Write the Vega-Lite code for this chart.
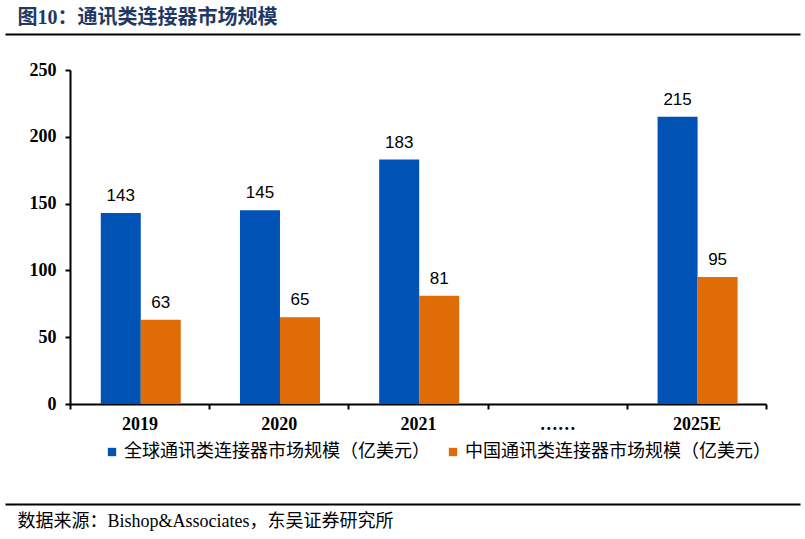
{
  "$schema": "https://vega.github.io/schema/vega-lite/v6.json",
  "background": "white",
  "padding": {"left": 5, "right": 5, "top": 7, "bottom": 5},
  "spacing": 10,
  "align": "none",
  "resolve": {"scale": {"color": "independent"}, "legend": {"color": "independent"}},
  "config": {"view": {"stroke": null}, "axis": {"grid": false}},
  "vconcat": [
    {
      "width": 795,
      "height": 17,
      "data": {"values": []},
      "mark": "point",
      "encoding": {
        "x": {
          "field": "v",
          "type": "quantitative",
          "scale": {"domain": [0, 1]},
          "axis": {
            "orient": "top",
            "position": -65,
            "title": "图10：通讯类连接器市场规模",
            "labels": false,
            "ticks": false,
            "domain": true,
            "domainColor": "#000000",
            "domainWidth": 2,
            "titleX": 12,
            "titleAlign": "left",
            "titleAnchor": "start",
            "titleBaseline": "middle",
            "titlePadding": 17,
            "titleFont": "Liberation Serif, Noto Sans CJK SC",
            "titleFontSize": 20,
            "titleFontWeight": "bold",
            "titleColor": "#1F3864",
            "minExtent": 0
          }
        }
      }
    },
    {
      "width": 696,
      "height": 334,
      "data": {
        "values": [
          {"year": "2019", "series": "全球通讯类连接器市场规模（亿美元）", "value": 143},
          {"year": "2019", "series": "中国通讯类连接器市场规模（亿美元）", "value": 63},
          {"year": "2020", "series": "全球通讯类连接器市场规模（亿美元）", "value": 145},
          {"year": "2020", "series": "中国通讯类连接器市场规模（亿美元）", "value": 65},
          {"year": "2021", "series": "全球通讯类连接器市场规模（亿美元）", "value": 183},
          {"year": "2021", "series": "中国通讯类连接器市场规模（亿美元）", "value": 81},
          {"year": "2025E", "series": "全球通讯类连接器市场规模（亿美元）", "value": 215},
          {"year": "2025E", "series": "中国通讯类连接器市场规模（亿美元）", "value": 95}
        ]
      },
      "encoding": {
        "x": {
          "field": "year",
          "type": "nominal",
          "scale": {"domain": ["2019", "2020", "2021", "……", "2025E"], "paddingInner": 0, "paddingOuter": 0},
          "axis": {
            "title": null,
            "labelAngle": 0,
            "tickBand": "extent",
            "domainColor": "#000000",
            "domainWidth": 2,
            "tickColor": "#000000",
            "tickWidth": 2,
            "tickSize": 5,
            "labelFont": "Liberation Serif",
            "labelFontWeight": "bold",
            "labelFontSize": 18,
            "labelColor": "#000000",
            "labelPadding": 6
          }
        },
        "xOffset": {
          "field": "series",
          "type": "nominal",
          "scale": {"domain": ["全球通讯类连接器市场规模（亿美元）", "中国通讯类连接器市场规模（亿美元）"], "paddingInner": 0, "paddingOuter": 0.74, "align": 0.52}
        },
        "y": {
          "field": "value",
          "type": "quantitative",
          "scale": {"domain": [0, 250]},
          "axis": {
            "title": null,
            "values": [0, 50, 100, 150, 200, 250],
            "domainColor": "#000000",
            "domainWidth": 2,
            "tickColor": "#000000",
            "tickWidth": 2,
            "tickSize": 5,
            "labelFont": "Liberation Serif",
            "labelFontWeight": "bold",
            "labelFontSize": 18,
            "labelColor": "#000000",
            "labelPadding": 9,
            "minExtent": 65
          }
        }
      },
      "layer": [
        {
          "mark": {"type": "bar"},
          "encoding": {
            "color": {
              "field": "series",
              "type": "nominal",
              "scale": {"domain": ["全球通讯类连接器市场规模（亿美元）", "中国通讯类连接器市场规模（亿美元）"], "range": ["#0052B4", "#E06C08"]},
              "legend": {
                "title": null,
                "orient": "none",
                "legendX": 33,
                "legendY": 373,
                "direction": "horizontal",
                "symbolType": "square",
                "symbolSize": 70,
                "symbolStrokeWidth": 0,
                "labelFont": "Noto Sans CJK SC",
                "labelFontSize": 18,
                "labelColor": "#000000",
                "labelOffset": 3,
                "columnPadding": 14,
                "labelLimit": 400,
                "padding": 0
              }
            }
          }
        },
        {
          "mark": {"type": "text", "dy": -12, "baseline": "alphabetic", "font": "Liberation Sans", "fontSize": 17, "color": "#000000"},
          "encoding": {"text": {"field": "value", "type": "quantitative"}}
        }
      ]
    },
    {
      "width": 795,
      "height": 33,
      "data": {"values": []},
      "mark": "point",
      "encoding": {
        "x": {
          "field": "v",
          "type": "quantitative",
          "scale": {"domain": [0, 1]},
          "axis": {
            "orient": "bottom",
            "position": -65,
            "title": "数据来源：Bishop&Associates，东吴证券研究所",
            "labels": false,
            "ticks": false,
            "domain": true,
            "domainColor": "#000000",
            "domainWidth": 2,
            "titleX": 12,
            "titleAlign": "left",
            "titleAnchor": "start",
            "titleBaseline": "middle",
            "titlePadding": 17,
            "titleFont": "Liberation Serif, Noto Sans CJK SC",
            "titleFontSize": 18,
            "titleFontWeight": "normal",
            "titleColor": "#000000",
            "minExtent": 0
          }
        }
      }
    }
  ]
}
